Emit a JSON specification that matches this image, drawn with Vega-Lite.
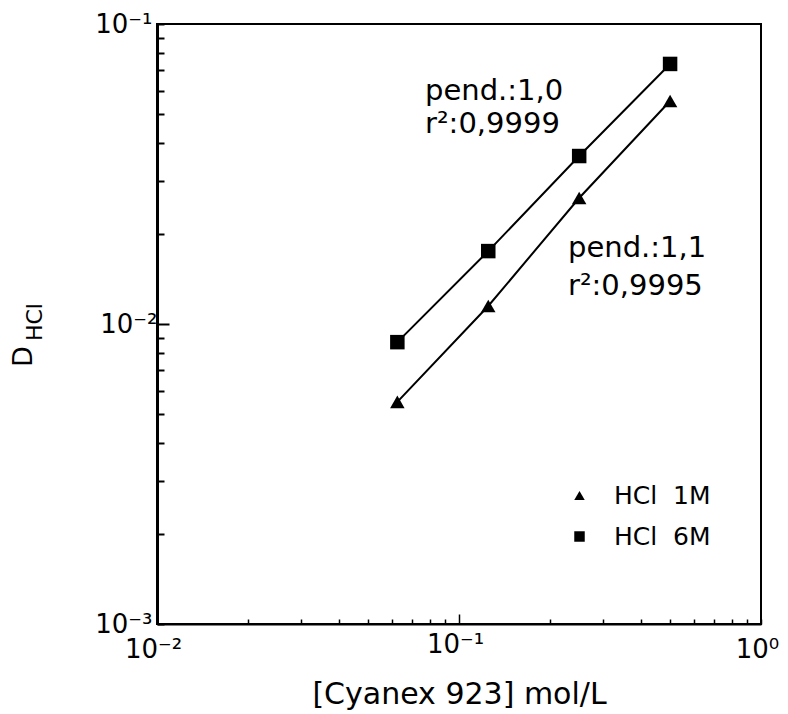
{
  "$schema": "https://vega.github.io/schema/vega-lite/v6.json",
  "width": 604,
  "height": 600,
  "autosize": {"type": "none"},
  "padding": {"left": 157, "top": 24, "right": 27, "bottom": 90},
  "background": "white",
  "config": {
    "font": "DejaVu Sans",
    "view": {"stroke": "black", "strokeWidth": 2},
    "axis": {"domainColor": "black", "tickColor": "black", "labelColor": "black", "titleColor": "black", "grid": false, "zindex": 1}
  },
  "datasets": {
    "pts": [
      {"c": 0.0625, "d": 0.0055, "serie": "HCl 1M"},
      {"c": 0.125, "d": 0.01148, "serie": "HCl 1M"},
      {"c": 0.25, "d": 0.0263, "serie": "HCl 1M"},
      {"c": 0.5, "d": 0.0554, "serie": "HCl 1M"},
      {"c": 0.0625, "d": 0.0087, "serie": "HCl 6M"},
      {"c": 0.125, "d": 0.0175, "serie": "HCl 6M"},
      {"c": 0.25, "d": 0.0363, "serie": "HCl 6M"},
      {"c": 0.5, "d": 0.0736, "serie": "HCl 6M"}
    ],
    "notes": [
      {"c": 0.0772, "d": 0.0558, "label": "pend.:1,0"},
      {"c": 0.0772, "d": 0.0433, "label": "r²:0,9999"},
      {"c": 0.2296, "d": 0.01673, "label": "pend.:1,1"},
      {"c": 0.2296, "d": 0.01249, "label": "r²:0,9995"}
    ],
    "sub": [
      {"c": 0.00394, "d": 0.01015, "label": "HCl"}
    ]
  },
  "layer": [
    {
      "data": {"name": "pts"},
      "mark": {"type": "line", "color": "black", "strokeWidth": 2},
      "encoding": {
        "x": {
          "field": "c", "type": "quantitative",
          "scale": {"type": "log", "domain": [0.01, 1], "nice": false},
          "axis": {
            "values": [0.01, 0.02, 0.03, 0.04, 0.05, 0.06, 0.07, 0.08, 0.09, 0.1, 0.2, 0.3, 0.4, 0.5, 0.6, 0.7, 0.8, 0.9, 1],
            "labelExpr": "datum.value == 0.01 ? '10⁻²' : datum.value == 0.1 ? '10⁻¹' : datum.value == 1 ? '10⁰' : ''",
            "labelFontSize": 26,
            "labelPadding": 17,
            "labelOffset": -4,
            "labelFlush": false,
            "labelOverlap": false,
            "domainWidth": 2,
            "tickWidth": 1.5,
            "tickSize": {"condition": {"test": "datum.value == 0.1", "value": -10}, "value": -5},
            "title": "[Cyanex 923]  mol/L",
            "titleFontSize": 30,
            "titleFontWeight": "normal",
            "titlePadding": 17
          }
        },
        "y": {
          "field": "d", "type": "quantitative",
          "scale": {"type": "log", "domain": [0.001, 0.1], "nice": false},
          "axis": {
            "values": [0.001, 0.002, 0.003, 0.004, 0.005, 0.006, 0.007, 0.008, 0.009, 0.01, 0.02, 0.03, 0.04, 0.05, 0.06, 0.07, 0.08, 0.09, 0.1],
            "labelExpr": "datum.value == 0.001 ? '10⁻³' : datum.value == 0.01 ? '10⁻²' : datum.value == 0.1 ? '10⁻¹' : ''",
            "labelFontSize": 26,
            "labelPadding": 12,
            "labelFlush": false,
            "labelOverlap": false,
            "domainWidth": 3,
            "tickWidth": 2,
            "tickSize": {"condition": {"test": "datum.value == 0.01", "value": -12}, "value": -7},
            "title": "D",
            "titleFontSize": 27,
            "titleFontWeight": "normal",
            "titleAngle": 270,
            "titleAlign": "center",
            "titleBaseline": "middle",
            "titleX": -134,
            "titleY": 332
          }
        },
        "detail": {"field": "serie"}
      }
    },
    {
      "data": {"name": "pts"},
      "mark": {"type": "point", "filled": true, "color": "black", "opacity": 1, "size": 210},
      "encoding": {
        "x": {"field": "c", "type": "quantitative"},
        "y": {"field": "d", "type": "quantitative"},
        "shape": {
          "field": "serie", "type": "nominal",
          "scale": {"domain": ["HCl 1M", "HCl 6M"], "range": ["triangle-up", "square"]},
          "legend": {
            "title": null,
            "orient": "none",
            "legendX": 410,
            "legendY": 459,
            "padding": 0,
            "symbolSize": 110,
            "symbolFillColor": "black",
            "symbolStrokeColor": "black",
            "symbolStrokeWidth": 0,
            "labelFontSize": 25,
            "labelColor": "black",
            "labelOffset": 22,
            "rowPadding": 15,
            "labelExpr": "replace(datum.label, ' ', '\u00a0\u00a0')"
          }
        }
      }
    },
    {
      "data": {"name": "notes"},
      "mark": {"type": "text", "align": "left", "baseline": "alphabetic", "fontSize": 29, "color": "black"},
      "encoding": {
        "x": {"field": "c", "type": "quantitative"},
        "y": {"field": "d", "type": "quantitative"},
        "text": {"field": "label"}
      }
    },
    {
      "data": {"name": "sub"},
      "mark": {"type": "text", "angle": 270, "align": "center", "baseline": "middle", "fontSize": 22, "color": "black"},
      "encoding": {
        "x": {"field": "c", "type": "quantitative"},
        "y": {"field": "d", "type": "quantitative"},
        "text": {"field": "label"}
      }
    }
  ]
}
